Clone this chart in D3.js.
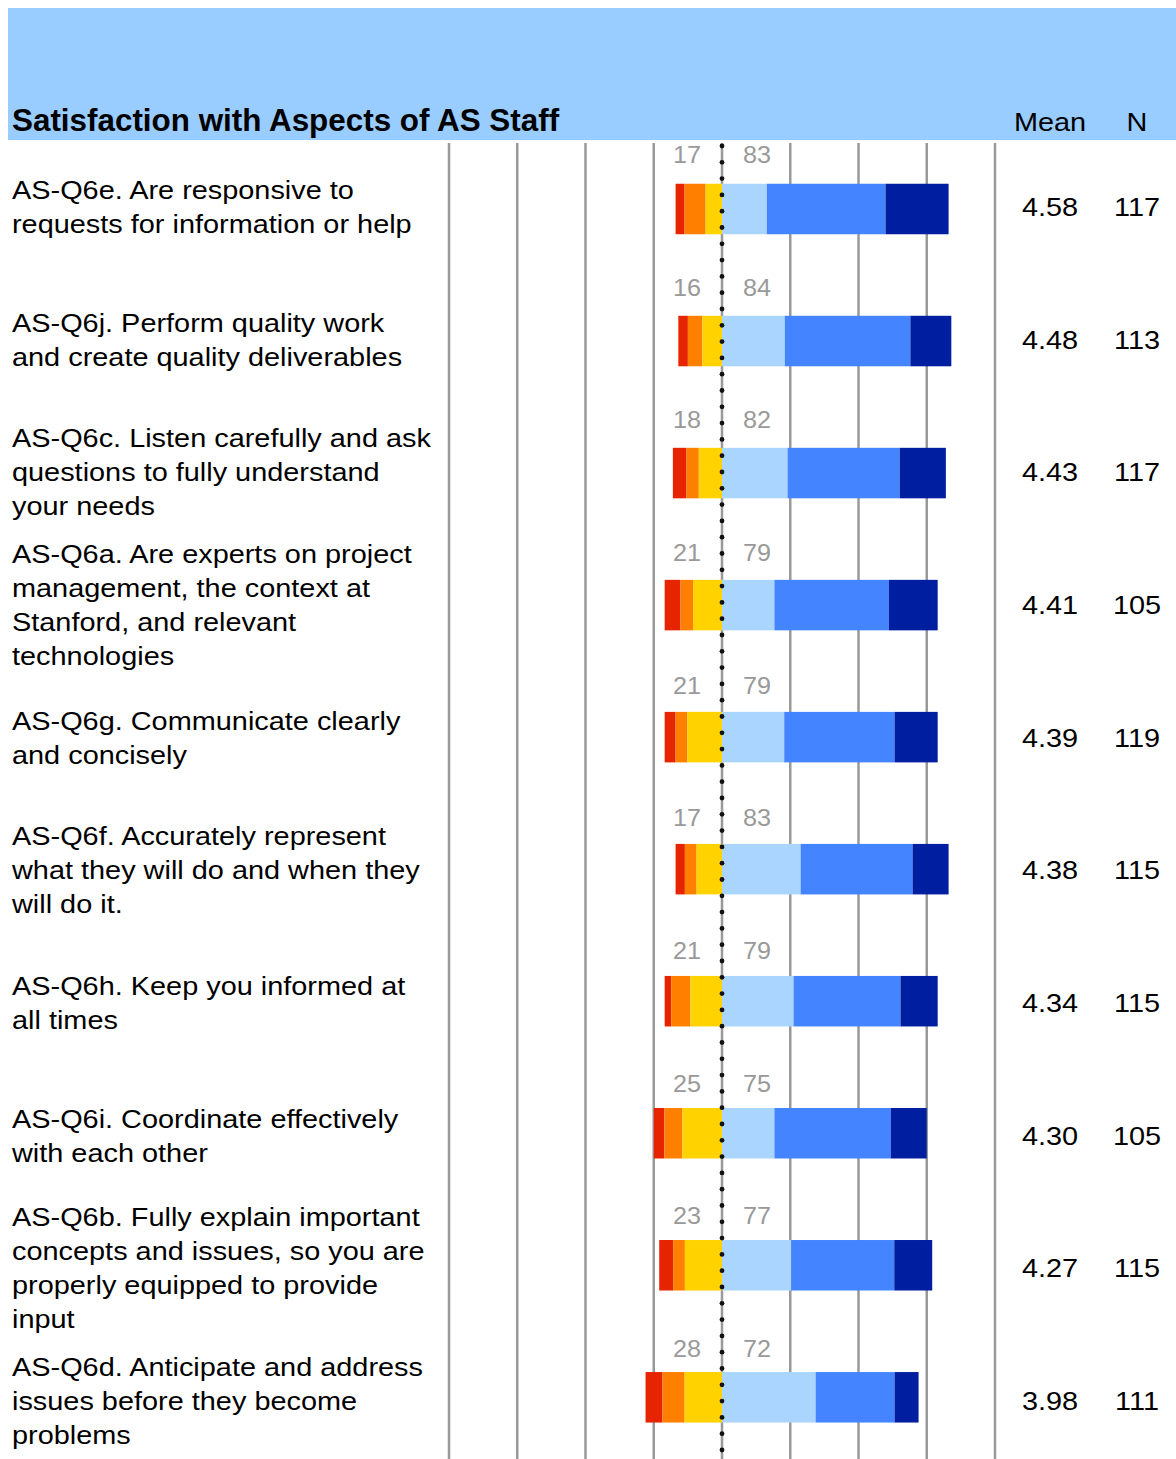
<!DOCTYPE html>
<html>
<head>
<meta charset="utf-8">
<script src="https://cdn.jsdelivr.net/npm/d3@7/dist/d3.min.js"></script>
<style>
  html, body { margin: 0; padding: 0; background: #fff; }
  svg { display: block; font-family: "Liberation Sans", Arial, Helvetica, sans-serif; }
</style>
</head>
<body>
<svg id="chart" width="1176" height="1459"></svg>
<script>
// Survey items, top to bottom, each wrapped into display lines
const items = [
  ["AS-Q6e. Are responsive to", "requests for information or help"],
  ["AS-Q6j. Perform quality work", "and create quality deliverables"],
  ["AS-Q6c. Listen carefully and ask", "questions to fully understand", "your needs"],
  ["AS-Q6a. Are experts on project", "management, the context at", "Stanford, and relevant", "technologies"],
  ["AS-Q6g. Communicate clearly", "and concisely"],
  ["AS-Q6f. Accurately represent", "what they will do and when they", "will do it."],
  ["AS-Q6h. Keep you informed at", "all times"],
  ["AS-Q6i. Coordinate effectively", "with each other"],
  ["AS-Q6b. Fully explain important", "concepts and issues, so you are", "properly equipped to provide", "input"],
  ["AS-Q6d. Anticipate and address", "issues before they become", "problems"]
];
const itemIds = items.map(d => d[0].split(".")[0]);

// Response shares (%) per item
const veryDissatisfied     = [3.3, 3.5, 5.0, 5.8, 4.0, 3.4, 2.4, 3.9, 5.1, 6.2];
const dissatisfied         = [7.7, 5.3, 4.5, 4.6, 4.3, 4.3, 7.0, 6.6, 4.3, 8.1];
const somewhatDissatisfied = [6.0, 7.2, 8.5, 10.6, 12.7, 9.3, 11.6, 14.5, 13.6, 13.7];
const somewhatSatisfied    = [16.4, 23.0, 24.0, 19.2, 22.8, 28.8, 26.2, 19.2, 25.3, 34.3];
const satisfied            = [43.5, 46.0, 41.1, 41.9, 40.4, 41.0, 39.2, 42.6, 37.8, 28.9];
const verySatisfied        = [23.1, 15.0, 16.9, 17.9, 15.8, 13.2, 13.6, 13.2, 13.9, 8.8];

// Summary columns
const negTotals = [17, 16, 18, 21, 21, 17, 21, 25, 23, 28];
const posTotals = [83, 84, 82, 79, 79, 83, 79, 75, 77, 72];
const means = ["4.58", "4.48", "4.43", "4.41", "4.39", "4.38", "4.34", "4.30", "4.27", "3.98"];
const ns = [117, 113, 117, 105, 119, 115, 115, 105, 115, 111];

const gridTicks = [-100, -75, -50, -25, 0, 25, 50, 75, 100];

const negColors = ["#e62400", "#ff8000", "#ffd200"]; // very, dissatisfied, somewhat
const posColors = ["#a9d5ff", "#4485ff", "#001ea0"]; // somewhat, satisfied, very

const svg = d3.select("#chart");
const W = 1176, H = 1459;

const x = d3.scaleLinear().domain([-100, 100]).range([449, 995]);
// bar rows and text rows use slightly different vertical pitch
const y = d3.scalePoint().domain(itemIds).range([209, 1397.3]);
const yText = d3.scalePoint().domain(itemIds).range([207, 1401]);
const barH = 50.5;
const textScale = 1.133;

// Header band
svg.append("rect").attr("x", 8).attr("y", 8).attr("width", W - 8).attr("height", 132)
  .attr("fill", "#99ccff");
svg.append("text").attr("x", 12).attr("y", 131)
  .attr("font-size", 31.4).attr("font-weight", "bold").attr("fill", "#000")
  .text("Satisfaction with Aspects of AS Staff");
svg.append("text").attr("transform", `translate(1050,131) scale(${textScale},1)`)
  .attr("text-anchor", "middle").attr("font-size", 25.5).text("Mean");
svg.append("text").attr("transform", `translate(1137,131) scale(${textScale},1)`)
  .attr("text-anchor", "middle").attr("font-size", 25.5).text("N");

// Vertical gridlines
svg.append("g").selectAll("line").data(gridTicks).join("line")
  .attr("x1", d => x(d)).attr("x2", d => x(d))
  .attr("y1", 143).attr("y2", H)
  .attr("stroke", "#999").attr("stroke-width", 2.5);

// Stacked diverging bars
const rows = itemIds.map((id, i) => {
  const neg = [veryDissatisfied[i], dissatisfied[i], somewhatDissatisfied[i]];
  const pos = [somewhatSatisfied[i], satisfied[i], verySatisfied[i]];
  const segs = [];
  let start = -d3.sum(neg);
  neg.forEach((v, k) => { segs.push({ x0: start, x1: start + v, c: negColors[k] }); start += v; });
  start = 0;
  pos.forEach((v, k) => { segs.push({ x0: start, x1: start + v, c: posColors[k] }); start += v; });
  return { id, i, segs };
});

const barG = svg.append("g").selectAll("g").data(rows).join("g");
barG.selectAll("rect").data(r => r.segs.map(s => ({ ...s, id: r.id }))).join("rect")
  .attr("x", s => x(s.x0)).attr("width", s => x(s.x1) - x(s.x0))
  .attr("y", s => y(s.id) - barH / 2).attr("height", barH)
  .attr("fill", s => s.c);

// Dotted zero line
const zeroDots = d3.range(146, H, 16.3);
svg.append("g").selectAll("circle").data(zeroDots).join("circle")
  .attr("cx", x(0)).attr("cy", d => d).attr("r", 2.4).attr("fill", "#111");

// Percent totals above each bar
const pctG = svg.append("g").attr("fill", "#999").attr("font-size", 24).attr("text-anchor", "middle");
pctG.selectAll("text.neg").data(itemIds).join("text").attr("class", "neg")
  .attr("transform", d => `translate(${x(0) - 35},${yText(d) - 44}) scale(1.05,1)`)
  .text((d, i) => negTotals[i]);
pctG.selectAll("text.pos").data(itemIds).join("text").attr("class", "pos")
  .attr("transform", d => `translate(${x(0) + 35},${yText(d) - 44}) scale(1.05,1)`)
  .text((d, i) => posTotals[i]);

// Item labels
const lineH = 34;
const labG = svg.append("g").attr("font-size", 25.5).attr("fill", "#000");
labG.selectAll("text").data(items).join("text")
  .attr("transform", (lines, i) => {
    const top = yText(itemIds[i]) - (lines.length - 1) / 2 * lineH + 9;
    return `translate(12,${top}) scale(${textScale},1)`;
  })
  .selectAll("tspan").data(d => d).join("tspan")
  .attr("x", 0).attr("dy", (d, k) => k === 0 ? 0 : lineH)
  .text(d => d);

// Mean and N columns
const valG = svg.append("g").attr("font-size", 25.5).attr("fill", "#000").attr("text-anchor", "middle");
valG.selectAll("text.mean").data(itemIds).join("text").attr("class", "mean")
  .attr("transform", d => `translate(1050,${yText(d) + 9}) scale(${textScale},1)`)
  .text((d, i) => means[i]);
valG.selectAll("text.n").data(itemIds).join("text").attr("class", "n")
  .attr("transform", d => `translate(1137,${yText(d) + 9}) scale(${textScale},1)`)
  .text((d, i) => ns[i]);
</script>
</body>
</html>
